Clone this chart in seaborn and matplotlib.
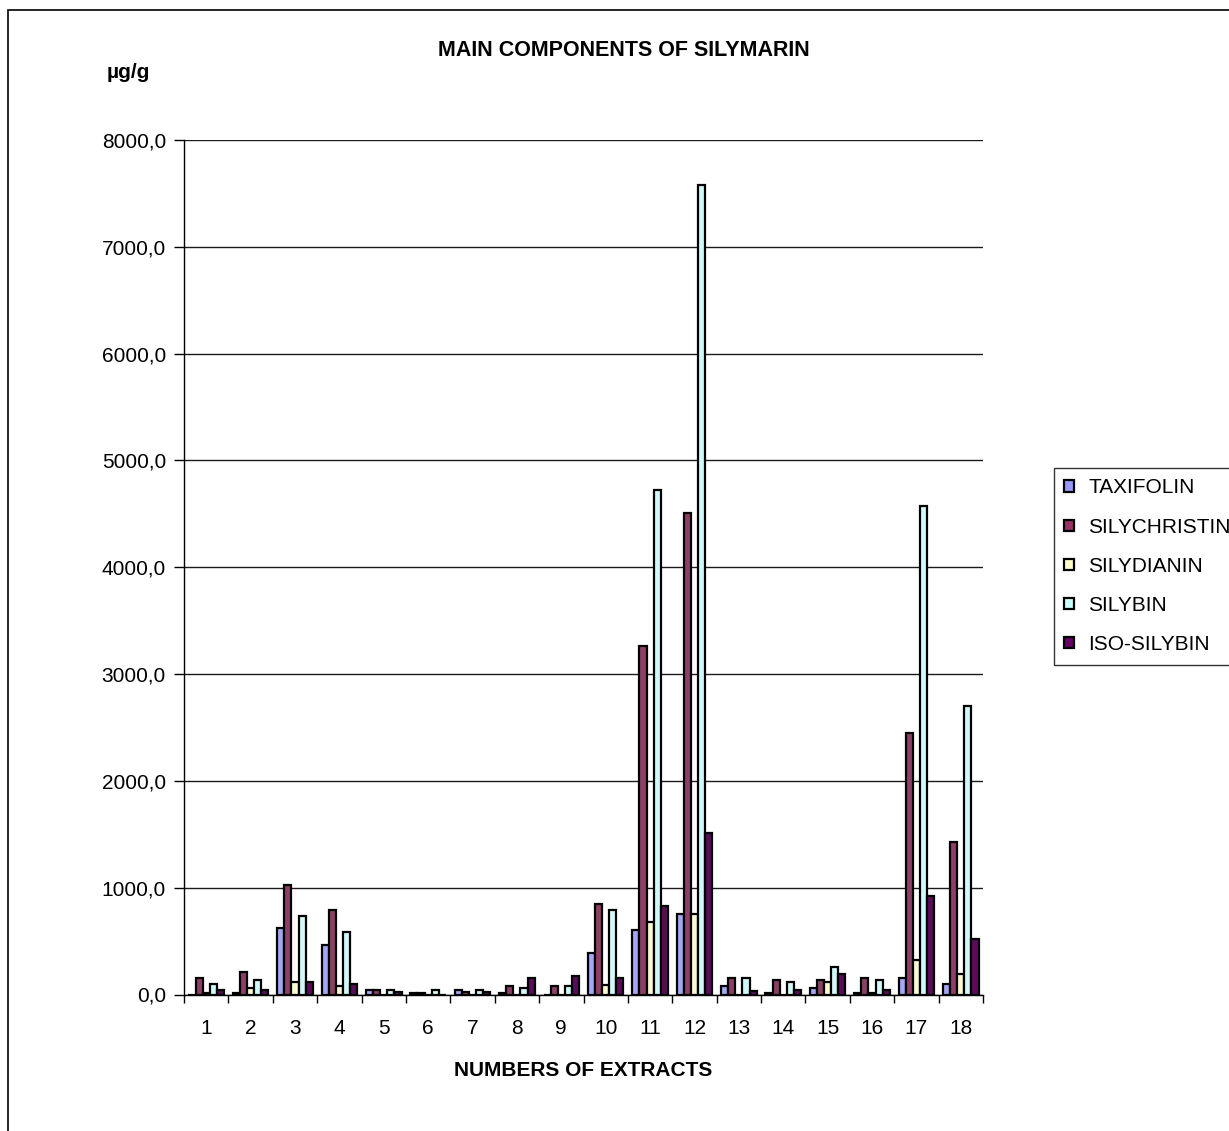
import numpy as np
import pandas as pd
import matplotlib
matplotlib.use("Agg")
import matplotlib.pyplot as plt
from matplotlib.patches import Patch, Rectangle
from matplotlib.ticker import FuncFormatter, FixedLocator
import seaborn as sns

# Silymarin constituents per extract (µg/g)
extracts = [str(i) for i in range(1, 19)]
components = ["TAXIFOLIN", "SILYCHRISTIN", "SILYDIANIN", "SILYBIN", "ISO-SILYBIN"]
taxifolin    = [0, 15, 620, 465, 43, 15, 43, 15, 0, 385, 600, 757, 76, 15, 59, 15, 152, 96]
silychristin = [155, 214, 1023, 790, 43, 15, 20, 84, 84, 850, 3261, 4511, 155, 136, 136, 155, 2446, 1432]
silydianin   = [15, 59, 115, 84, 0, 0, 0, 0, 0, 92, 676, 757, 0, 0, 115, 15, 325, 194]
silybin      = [100, 136, 735, 583, 43, 43, 43, 62, 84, 790, 4725, 7575, 155, 115, 254, 136, 4575, 2697]
iso_silybin  = [45, 46, 121, 99, 20, 0, 20, 158, 177, 153, 833, 1514, 37, 40, 192, 40, 926, 522]
colors = ["#9999FF", "#993366", "#FFFFCC", "#CCFFFF", "#660066"]

series = [taxifolin, silychristin, silydianin, silybin, iso_silybin]
df = pd.DataFrame({
    "extract": np.tile(extracts, len(components)),
    "component": np.repeat(components, len(extracts)),
    "value": np.concatenate(series),
})

sns.set_style("white")
plt.rcParams["font.family"] = ["Liberation Sans", "DejaVu Sans"]
plt.rcParams["text.color"] = "black"
plt.rcParams["xtick.color"] = "black"
plt.rcParams["ytick.color"] = "black"
plt.rcParams["axes.labelcolor"] = "black"

fig = plt.figure(figsize=(12.29, 11.31), dpi=100)
W, H = 1229, 1131
ax = fig.add_axes([184 / W, 1 - 994.5 / H, (983 - 184) / W, (994.5 - 140) / H])

sns.barplot(data=df, x="extract", y="value", hue="component", order=extracts,
            hue_order=components, palette=colors, edgecolor="black",
            linewidth=1.6, width=0.8, legend=False, ax=ax, zorder=3)

ax.set_ylim(0, 8000)
ax.set_xlim(-0.5, len(extracts) - 0.5)
ax.set_yticks(np.arange(0, 8001, 1000))
ax.yaxis.set_major_formatter(FuncFormatter(lambda v, _: f"{v:.1f}".replace(".", ",")))
ax.yaxis.grid(True, color="#1a1a1a", linewidth=1.0)
ax.xaxis.grid(False)
ax.set_axisbelow(True)

for side in ["top", "right"]:
    ax.spines[side].set_visible(False)
for side in ["left", "bottom"]:
    ax.spines[side].set_color("black")
    ax.spines[side].set_linewidth(1.0)

ax.tick_params(axis="y", which="major", left=True, length=7, width=1.0,
               color="black", labelcolor="black", labelsize=15, pad=6)
ax.tick_params(axis="x", which="major", bottom=False, length=0,
               labelcolor="black", labelsize=15, pad=18)
ax.xaxis.set_minor_locator(FixedLocator(np.arange(-0.5, len(extracts), 1.0)))
ax.tick_params(axis="x", which="minor", bottom=True, length=6, width=1.0,
               color="black", direction="out")
ax.set_xlabel("")
ax.set_ylabel("")

fig.text(624 / W, 1 - 51 / H, "MAIN COMPONENTS OF SILYMARIN", ha="center",
         va="center", fontsize=15.5, fontweight="bold", color="black")
fig.text(128 / W, 1 - 73 / H, "µg/g", ha="center", va="center",
         fontsize=15, fontweight="bold", color="black")
fig.text(583 / W, 1 - 1071 / H, "NUMBERS OF EXTRACTS", ha="center",
         va="center", fontsize=15, fontweight="bold", color="black")

handles = [Patch(facecolor=c, edgecolor="black", linewidth=1.6, label=n)
           for c, n in zip(colors, components)]
leg = fig.legend(handles=handles, loc="upper left",
                 bbox_to_anchor=(1054 / W, 1 - 468 / H), fontsize=15,
                 frameon=True, fancybox=False, handlelength=0.45,
                 handleheight=0.45, handletextpad=0.7, labelspacing=0.97,
                 borderpad=0.5, borderaxespad=0)
leg.get_frame().set_edgecolor("black")
leg.get_frame().set_linewidth(1.0)
for t in leg.get_texts():
    t.set_color("black")

# outer chart-area border
fig.patches.append(Rectangle((8 / W, -0.05), 1.2, 1 - 10 / H + 0.05,
                             transform=fig.transFigure, fill=False,
                             edgecolor="black", linewidth=1.2))

fig.savefig("out.png", dpi=100)
